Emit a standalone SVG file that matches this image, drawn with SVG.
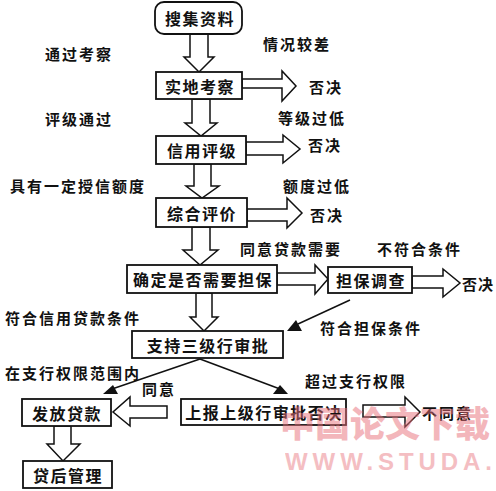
<svg xmlns="http://www.w3.org/2000/svg" width="496" height="491" viewBox="0 0 496 491">
<style>
  .box { fill: #fff; stroke: #111; stroke-width: 1.8; }
  .ntx { font-family: "Noto Sans CJK SC", "Noto Sans", sans-serif; font-size: 16px; font-weight: 700; fill: #111; letter-spacing: 1.5px; text-anchor: middle; dominant-baseline: central; }
  .lbl { font-family: "Noto Sans CJK SC", "Noto Sans", sans-serif; font-size: 15px; font-weight: 700; fill: #111; letter-spacing: 2px; dominant-baseline: central; }
  .harrow { fill: #fff; stroke: #111; stroke-width: 1.5; stroke-linejoin: miter; }
  .line { stroke: #111; stroke-width: 1.5; fill: none; }
  .tri { fill: #111; }
  .wm { font-family: "Noto Sans CJK SC", sans-serif; font-weight: 900; fill: #e8707a; opacity: 0.5; }
  .wm2 { font-family: "Liberation Sans", Arial, sans-serif; font-weight: 700; fill: #e8707a; opacity: 0.45; }
</style>

<g id="connectors">
  <!-- hollow down arrows -->
  <polygon class="harrow" points="190,34 190,57 184,57 199,72 214,57 208,57 208,34"/>
  <polygon class="harrow" points="192,99 192,123 185,123 201,136 217,123 210,123 210,99"/>
  <polygon class="harrow" points="194,164 194,186 186,186 202,198 219,186 211,186 211,164"/>
  <polygon class="harrow" points="192,227 192,250 183,250 200,265 218,250 210,250 210,227"/>
  <polygon class="harrow" points="196,293 196,317 190,317 204,331 218,317 212,317 212,293"/>
  <polygon class="harrow" points="54,426 54,444 47,444 63,461 80,444 71,444 71,426"/>
  <!-- hollow right arrows -->
  <polygon class="harrow" points="242,79 282,79 282,71 296,86 282,101 282,88 242,88"/>
  <polygon class="harrow" points="246,142 283,142 283,135 300,149 283,163 283,155 246,155"/>
  <polygon class="harrow" points="247,209 287,209 287,198 302,213 287,228 287,221 247,221"/>
  <polygon class="harrow" points="277,273 315,273 315,265 328,279 315,294 315,285 277,285"/>
  <polygon class="harrow" points="412,276 443,276 443,269 460,283 443,297 443,288 412,288"/>
  <polygon class="harrow" points="363,405 405,405 405,397 420,412 405,427 405,417 363,417"/>
  <!-- hollow left arrow -->
  <polygon class="harrow" points="167,406 130,406 130,397 113,412 130,426 130,418 167,418"/>
  <!-- thin lines with filled heads -->
  <line class="line" x1="350" y1="300" x2="298" y2="324"/>
  <polygon class="tri" points="287,331 302,331 296,320"/>
  <line class="line" x1="200" y1="359" x2="112" y2="389"/>
  <polygon class="tri" points="103,394 118,394 113,385"/>
  <line class="line" x1="200" y1="359" x2="280" y2="389"/>
  <polygon class="tri" points="273,394 288,394 280,385"/>
</g>

<g id="n-collect">
  <rect class="box" x="155" y="2" width="87" height="32" rx="9"/>
  <text class="ntx" x="200" y="18">搜集资料</text>
</g>
<g id="n-survey">
  <rect class="box" x="156" y="72" width="86" height="27"/>
  <text class="ntx" x="200" y="86">实地考察</text>
</g>
<g id="n-rating">
  <rect class="box" x="156" y="136" width="90" height="28"/>
  <text class="ntx" x="202" y="150">信用评级</text>
</g>
<g id="n-eval">
  <rect class="box" x="156" y="198" width="91" height="29"/>
  <text class="ntx" x="202" y="213">综合评价</text>
</g>
<g id="n-guarantee-need">
  <rect class="box" x="127" y="265" width="150" height="28"/>
  <text class="ntx" x="203" y="279">确定是否需要担保</text>
</g>
<g id="n-guarantee-check">
  <rect class="box" x="328" y="267" width="84" height="26"/>
  <text class="ntx" x="371" y="280">担保调查</text>
</g>
<g id="n-approve">
  <rect class="box" x="132" y="331" width="151" height="27"/>
  <text class="ntx" x="208" y="345">支持三级行审批</text>
</g>
<g id="n-issue">
  <rect class="box" x="22" y="399" width="89" height="27"/>
  <text class="ntx" x="67" y="413">发放贷款</text>
</g>
<g id="n-report">
  <rect class="box" x="181" y="399" width="165" height="26"/>
  <text class="ntx" x="264" y="412">上报上级行审批否决</text>
</g>
<g id="n-after">
  <rect class="box" x="23" y="461" width="89" height="27"/>
  <text class="ntx" x="68" y="475">贷后管理</text>
</g>

<g id="labels">
  <text class="lbl" x="45" y="53">通过考察</text>
  <text class="lbl" x="263" y="43">情况较差</text>
  <text class="lbl" x="309" y="86">否决</text>
  <text class="lbl" x="45" y="118">评级通过</text>
  <text class="lbl" x="278" y="117">等级过低</text>
  <text class="lbl" x="308" y="144">否决</text>
  <text class="lbl" x="10" y="185">具有一定授信额度</text>
  <text class="lbl" x="283" y="185">额度过低</text>
  <text class="lbl" x="310" y="214">否决</text>
  <text class="lbl" x="240" y="248">同意贷款需要</text>
  <text class="lbl" x="377" y="248">不符合条件</text>
  <text class="lbl" x="462" y="283" style="letter-spacing:1px">否决</text>
  <text class="lbl" x="5" y="317">符合信用贷款条件</text>
  <text class="lbl" x="320" y="327">符合担保条件</text>
  <text class="lbl" x="5" y="372">在支行权限范围内</text>
  <text class="lbl" x="142" y="388">同意</text>
  <text class="lbl" x="305" y="380">超过支行权限</text>
  <text class="lbl" x="422" y="412">不同意</text>
</g>

<g id="watermark">
  <text class="wm" x="280" y="437" font-size="35" textLength="210">中国论文下载</text>
  <text class="wm2" x="285" y="470" font-size="24" textLength="207" lengthAdjust="spacing">WWW.STUDA.</text>
</g>
</svg>
